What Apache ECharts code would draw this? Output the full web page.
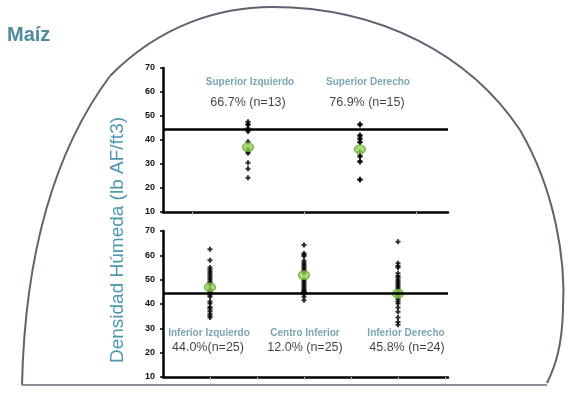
<!DOCTYPE html>
<html>
<head>
<meta charset="utf-8">
<script src="https://cdn.jsdelivr.net/npm/echarts@6/dist/echarts.min.js"></script>
<style>
html,body{margin:0;padding:0;background:#fff;}
#c{width:573px;height:393px;}
</style>
</head>
<body>
<div id="c"></div>
<script>
// ---- data ----
const titleText = 'Maíz';
const yTitle = 'Densidad Húmeda (lb AF/ft3)';
const topCats = ['Superior Izquierdo', 'Superior Derecho'];
const topPct = ['66.7% (n=13)', '76.9% (n=15)'];
const botCats = ['Inferior Izquierdo', 'Centro Inferior', 'Inferior Derecho'];
const botPct = ['44.0%(n=25)', '12.0% (n=25)', '45.8% (n=24)'];
const supIzq = [47.6, 46.8, 46.2, 44.9, 44.2, 43.5, 39.3, 36, 35.1, 34.5, 30.5, 28, 24.3];
const supDer = [46.7, 46.3, 42.1, 41.7, 40.7, 40.3, 39.3, 39, 35, 33.5, 33, 31.2, 30.8, 23.6, 23.3];
const infIzq = [62.5, 58, 55, 54.2, 53.4, 52.6, 51.8, 51, 50.2, 49.4, 48.6, 48, 46, 45.2, 44.5, 43.8, 43, 41, 40.2, 38.8, 38, 37, 36, 35.2, 34.5];
const cenInf = [64.2, 60.8, 60.2, 59.6, 57.8, 56.8, 56, 55.2, 54.4, 53.6, 52.8, 50, 49.4, 48.6, 47.8, 47, 46.2, 45.6, 45, 44.8, 44.6, 44.5, 44, 43, 41.5];
const infDer = [65.6, 56.7, 55.6, 55, 52.6, 51.5, 50.8, 49.9, 49, 48.2, 47.4, 46.6, 45.5, 44.3, 43.6, 43, 42, 41, 40.2, 38.6, 36.8, 34.5, 32.6, 31.5];
const topMeans = [37, 36.1];
const botMeans = [46.9, 51.8, 44.2];
const refValue = 44.5;
const yMin = 10, yMax = 70, yStep = 10;

// ---- build ----
const topGroups = [supIzq, supDer];
const botGroups = [infIzq, cenInf, infDer];
const toPts = groups => groups.flatMap((g, i) => g.map(v => [i, v]));
const cross = 'path://M1.5,0H3.5V1.5H5V3.5H3.5V5H1.5V3.5H0V1.5H1.5Z';
const tickFont = {fontFamily: 'Liberation Sans, Arial', fontSize: 9, fontWeight: 'bold', color: '#111'};

function yAx(gi) {
  return {
    gridIndex: gi, type: 'value', min: yMin, max: yMax, interval: yStep,
    axisLine: {show: true, onZero: false, lineStyle: {color: '#000', width: 2.5}},
    axisTick: {show: true, length: 3, lineStyle: {color: '#000', width: 1.5}},
    axisLabel: Object.assign({margin: 8}, tickFont),
    splitLine: {show: false}
  };
}
function xAx(gi, min, max, ticks) {
  return {
    gridIndex: gi, type: 'value', min: min, max: max,
    axisLine: {show: true, onZero: false, lineStyle: {color: '#000', width: 2.5}},
    axisTick: {show: true, customValues: ticks, length: 3, lineStyle: {color: '#bbb', width: 1}},
    axisLabel: {show: false},
    splitLine: {show: false}
  };
}
const catStyle = {fontFamily: 'Liberation Sans, Arial', fontSize: 10, fontWeight: 'bold', color: '#5b8fa1'};
const pctStyle = {fontFamily: 'Liberation Sans, Arial', fontSize: 12.5, color: '#111'};

function labelSeries(gi, names, yv, style, offs) {
  return {
    type: 'scatter', xAxisIndex: gi, yAxisIndex: gi, symbolSize: 0, silent: true, z: 5,
    data: names.map((n, i) => ({name: n, value: [i, yv], label: {offset: [offs[i], 0]}})),
    label: Object.assign({show: true, position: 'inside', formatter: '{b}'}, style)
  };
}
function ptsSeries(gi, groups) {
  return {
    type: 'scatter', xAxisIndex: gi, yAxisIndex: gi, symbol: cross, symbolSize: 5,
    itemStyle: {color: '#000'}, data: toPts(groups), silent: true, z: 3,
    markLine: {silent: true, symbol: 'none', label: {show: false},
      lineStyle: {color: '#000', width: 2.5, type: 'solid'}, data: [{yAxis: refValue}]}
  };
}
function meanSeries(gi, means) {
  return {
    type: 'scatter', xAxisIndex: gi, yAxisIndex: gi, symbol: 'circle', symbolSize: [11, 9],
    itemStyle: {color: '#8fd24e', borderColor: '#5e9a36', borderWidth: 1},
    data: means.map((m, i) => [i, m]), silent: true, z: 4
  };
}
const domeStroke = {fill: 'none', stroke: '#5f6270', lineWidth: 2};
function bez(x1, y1, c1x, c1y, c2x, c2y, x2, y2) {
  return {type: 'bezierCurve', z: -1, silent: true,
    shape: {x1: x1, y1: y1, cpx1: c1x, cpy1: c1y, cpx2: c2x, cpy2: c2y, x2: x2, y2: y2},
    style: domeStroke};
}

const chart = echarts.init(document.getElementById('c'), null, {renderer: 'canvas'});
chart.setOption({
  animation: false,
  backgroundColor: '#fff',
  title: {text: titleText, left: 2, top: 20,
    textStyle: {fontFamily: 'Liberation Sans, Arial', fontSize: 20, fontWeight: 'bold', color: '#4f8b9c'}},
  graphic: [
    bez(22, 385, 25, 250, 55, 150, 110, 76),
    bez(110, 76, 160, 25, 220, 7, 272, 7),
    bez(272, 7, 380, 7, 470, 55, 520, 130),
    bez(520, 130, 555, 190, 566, 260, 563, 310),
    bez(563, 310, 562, 345, 556, 365, 547, 383),
    {type: 'line', z: -1, silent: true, shape: {x1: 22, y1: 385, x2: 547, y2: 385},
      style: {stroke: '#8a8f9a', lineWidth: 2}},
    {type: 'text', silent: true, x: 118, y: 240, rotation: Math.PI / 2,
      style: {text: yTitle, fontFamily: 'Liberation Sans, Arial', fontSize: 19, fill: '#4d97b0',
        align: 'center', verticalAlign: 'middle'}}
  ],
  grid: [
    {left: 163, top: 68, width: 285, height: 144},
    {left: 163, top: 231, width: 285, height: 146}
  ],
  xAxis: [xAx(0, -0.759, 1.786, [-0.5, 0.5, 1.5]), xAx(1, -0.5, 2.532, [0, 0.5, 1, 1.5, 2, 2.5])],
  yAxis: [yAx(0), yAx(1)],
  series: [
    ptsSeries(0, topGroups),
    meanSeries(0, topMeans),
    ptsSeries(1, botGroups),
    meanSeries(1, botMeans),
    labelSeries(0, topCats, 64.2, catStyle, [2, 8]),
    labelSeries(0, topPct, 55.8, pctStyle, [0, 7]),
    labelSeries(1, botCats, 28.1, catStyle, [-1, 1, 8]),
    labelSeries(1, botPct, 21.9, pctStyle, [-2, 1, 9])
  ]
});
</script>
</body>
</html>
